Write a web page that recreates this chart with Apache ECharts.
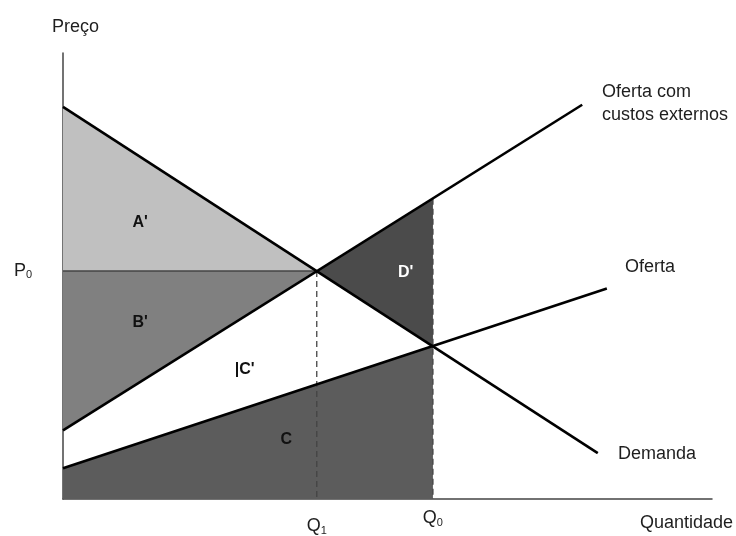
<!DOCTYPE html>
<html><head><meta charset="utf-8">
<script src="https://cdn.jsdelivr.net/npm/echarts@6/dist/echarts.min.js"></script>
<style>html,body{margin:0;padding:0;background:#fff}#c{width:736px;height:536px}</style>
</head><body><div id="c"></div>
<script>
// Curves (data units: quantity 0-100, price 0-100)
const demanda = [[0, 87.9], [82.4, 10.3]];
const ofertaExt = [[0, 15.4], [80.0, 88.4]];
const oferta = [[0, 6.9], [83.8, 47.2]];
// Key values
const Q1 = 39.1, Q0 = 57.0, P0 = 51.1;
const priceExtAtQ0 = 67.3, priceAtQ0 = 34.4;
// Regions
const regionA = [[0, 87.9], [Q1, P0], [0, P0]];
const regionB = [[0, P0], [Q1, P0], [0, 15.4]];
const regionC = [[0, 6.9], [Q0, priceAtQ0], [Q0, 0], [0, 0]];
const regionD = [[Q1, P0], [Q0, priceExtAtQ0], [Q0, priceAtQ0]];
const regionColors = ['#c0c0c0', '#808080', '#5c5c5c', '#4b4b4b'];
// Region labels
const regionLabels = [["A'", 11.9, 62.0, '#111111'], ["B'", 11.9, 39.6, '#111111'], ["|C'", 28.0, 29.1, '#111111'], ["C", 34.4, 13.4, '#111111'], ["D'", 52.8, 50.8, '#ffffff']];
// Curve labels
const curveLabels = [["Oferta com\ncustos externos", 83.05, 88.6], ["Oferta", 86.6, 52.1], ["Demanda", 85.5, 10.1]];
// Tick labels
const xTicks = [Q1, Q0];
const xTickNames = ['1', '0'];
const yTicks = [P0];

const FONT = 'Liberation Sans';
const TXT = '#1e1e1e';
const chart = echarts.init(document.getElementById('c'), null, {renderer: 'canvas'});
const polys = [regionA, regionB, regionC, regionD];

chart.setOption({
  animation: false,
  grid: {left: 63, top: 53, right: 24, bottom: 36},
  xAxis: {
    type: 'value', min: 0, max: 100,
    name: 'Quantidade', nameLocation: 'end', nameGap: 21,
    nameTextStyle: {fontFamily: FONT, fontSize: 18, color: TXT, align: 'right', verticalAlign: 'top', padding: [15, 0, 0, 0]},
    axisLine: {show: true, lineStyle: {color: '#444', width: 1.5}},
    axisTick: {show: false},
    splitLine: {show: false},
    axisLabel: {
      customValues: xTicks, margin: 10, fontFamily: FONT, color: TXT,
      formatter: function (v) { const i = xTicks.indexOf(v); return i === 0 ? '{a|Q}{s|' + xTickNames[i] + '}' : '{b|Q}{t|' + xTickNames[i] + '}'; },
      rich: {
        a: {fontFamily: FONT, fontSize: 18, color: TXT, padding: [8, 0, 0, 0]},
        s: {fontFamily: FONT, fontSize: 11, color: TXT, padding: [16, 0, 0, 0]},
        b: {fontFamily: FONT, fontSize: 18, color: TXT, padding: [0, 0, 0, 0]},
        t: {fontFamily: FONT, fontSize: 11, color: TXT, padding: [8, 0, 0, 0]}
      }
    }
  },
  yAxis: {
    type: 'value', min: 0, max: 100,
    name: 'Preço', nameLocation: 'end', nameGap: 17,
    nameTextStyle: {fontFamily: FONT, fontSize: 18, color: TXT, align: 'left', padding: [0, 0, 0, -11]},
    axisLine: {show: true, lineStyle: {color: '#444', width: 1.5}},
    axisTick: {show: false},
    splitLine: {show: false},
    axisLabel: {
      customValues: yTicks, margin: 31, fontFamily: FONT, color: TXT,
      formatter: function () { return '{p|P}{s|0}'; },
      rich: {
        p: {fontFamily: FONT, fontSize: 18, color: TXT},
        s: {fontFamily: FONT, fontSize: 11, color: TXT, padding: [8, 0, 0, 0]}
      }
    }
  },
  series: [
    {
      type: 'custom', z: 1,
      data: polys.map((p, i) => [i]),
      renderItem: function (params, api) {
        const i = api.value(0);
        const pts = polys[i].map(pt => api.coord(pt));
        return {type: 'polygon', shape: {points: pts}, style: {fill: regionColors[i], stroke: null}};
      },
      clip: false, silent: true
    },
    {type: 'line', z: 2, data: [[0, P0], [Q1, P0]], symbol: 'none', lineStyle: {color: '#444', width: 1.5}, silent: true},
    {type: 'line', z: 2, data: [[Q1, P0], [Q1, 0]], symbol: 'none', lineStyle: {color: '#444', width: 1.3, type: [6, 4]}, silent: true},
    {type: 'line', z: 2, data: [[Q0, priceExtAtQ0], [Q0, 0]], symbol: 'none', lineStyle: {color: '#444', width: 1.3, type: [6, 4]}, silent: true},
    {type: 'line', z: 3, data: demanda, symbol: 'none', lineStyle: {color: '#000', width: 2.6}, silent: true},
    {type: 'line', z: 3, data: ofertaExt, symbol: 'none', lineStyle: {color: '#000', width: 2.6}, silent: true},
    {type: 'line', z: 3, data: oferta, symbol: 'none', lineStyle: {color: '#000', width: 2.6}, silent: true},
    {
      type: 'scatter', z: 4, symbolSize: 0, silent: true,
      itemStyle: {opacity: 1},
      data: regionLabels.map(r => ({value: [r[1], r[2]], label: {show: true, formatter: r[0], color: r[3], opacity: 1}})),
      label: {position: [0, 0], align: 'center', verticalAlign: 'middle', fontFamily: FONT, fontSize: 16, fontWeight: 'bold', opacity: 1}
    },
    {
      type: 'scatter', z: 4, symbolSize: 0, silent: true, clip: false,
      itemStyle: {opacity: 1},
      data: curveLabels.map(r => ({value: [r[1], r[2]], label: {show: true, formatter: r[0], opacity: 1}})),
      label: {position: [0, 0], align: 'left', verticalAlign: 'middle', fontFamily: FONT, fontSize: 18, lineHeight: 23, color: TXT, opacity: 1}
    }
  ]
});
</script></body></html>
